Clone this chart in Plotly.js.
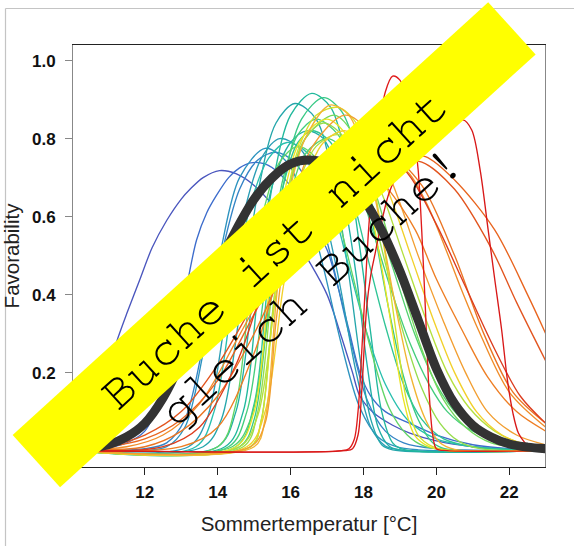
<!DOCTYPE html>
<html>
<head>
<meta charset="utf-8">
<script src="https://cdn.plot.ly/plotly-3.0.1.min.js"></script>
<style>
html,body{margin:0;padding:0;background:#ffffff;}
#chart{width:574px;height:546px;}
</style>
</head>
<body>
<div id="chart"></div>
<script>
// ---- axis ticks ----
const tempTicks = [12, 14, 16, 18, 20, 22];
const favTicks = [0.0, 0.2, 0.4, 0.6, 0.8, 1.0];
const favTickText = ["0.0", "0.2", "0.4", "0.6", "0.8", "1.0"];

// ---- individual response curves (temperature, favorability) ----
const blue1T = [10.03,10.5,11,11.23,11.5,11.87,12.2,12.6,13,13.24,13.6,14.05,14.5,15,15.5,16,16.54,17,17.4,17.7,17.9,18.3,18.8,19.27,20,21,22,23];
const blue1F = [0.05,0.11,0.21,0.28,0.35,0.44,0.52,0.59,0.645,0.67,0.70,0.718,0.71,0.68,0.63,0.56,0.48,0.40,0.29,0.2,0.14,0.095,0.065,0.045,0.025,0.01,0.004,0.002];
const blue2T = [10.03,11,11.5,12,12.5,12.88,13.15,13.42,13.7,13.97,14.3,14.6,14.9,15.3,15.7,16.1,16.5,17,17.3,17.6,17.9,18.2,18.6,19.27,20,21,22,23];
const blue2F = [0.002,0.008,0.02,0.05,0.15,0.284,0.42,0.54,0.61,0.655,0.70,0.725,0.738,0.735,0.71,0.665,0.60,0.515,0.42,0.31,0.2,0.14,0.10,0.07,0.04,0.015,0.005,0.002];
const blue3T = [10.03,12,12.6,13.1,13.6,14.1,14.6,15.1,15.6,16.1,16.6,17.1,17.6,18.1,18.6,19.1,20,23];
const blue3F = [0,0.005,0.02,0.08,0.27,0.5,0.67,0.745,0.765,0.74,0.66,0.5,0.3,0.13,0.05,0.02,0.005,0];
const tealAT = [10.03,12.6,13.1,13.6,14.1,14.6,15.3,15.9,16.4,16.9,17.4,17.9,18.4,18.9,19.5,23];
const tealAF = [0,0.01,0.06,0.25,0.52,0.70,0.775,0.74,0.64,0.47,0.27,0.11,0.035,0.01,0.002,0];
const tealBT = [10.03,13.2,13.7,14.2,14.7,15.2,15.7,16.3,16.8,17.3,17.8,18.2,18.6,19,23];
const tealBF = [0,0.01,0.08,0.33,0.6,0.75,0.80,0.77,0.65,0.45,0.2,0.06,0.012,0.002,0];
const tealCT = [10.03,13.6,14.1,14.6,15.1,15.6,16.12,16.7,17.2,17.6,17.9,18.2,18.5,18.8,23];
const tealCF = [0,0.01,0.08,0.35,0.66,0.84,0.89,0.85,0.68,0.45,0.24,0.08,0.015,0.002,0];
const tealDT = [10.03,14,14.5,15,15.5,16,16.45,16.9,17.4,17.8,18.1,18.4,18.7,19,23];
const tealDF = [0,0.01,0.1,0.42,0.68,0.79,0.82,0.8,0.67,0.45,0.22,0.06,0.012,0.002,0];
const tealET = [10.03,14.2,14.7,15.1,15.5,16,16.58,17.1,17.5,17.9,18.2,18.5,18.8,19.1,23];
const tealEF = [0,0.01,0.1,0.4,0.68,0.86,0.916,0.88,0.76,0.52,0.3,0.1,0.02,0.003,0];
const tealFT = [10.03,13.4,13.9,14.4,14.9,15.4,15.9,16.5,17.1,17.6,18.1,18.6,19.2,20,21,22,23];
const tealFF = [0,0.01,0.1,0.38,0.63,0.75,0.79,0.76,0.64,0.47,0.3,0.17,0.08,0.03,0.01,0.003,0.001];
const greenAT = [10.03,14.5,15,15.4,15.8,16.2,16.6,17.1,17.6,18.1,18.6,19.1,19.6,20.2,21,22,23];
const greenAF = [0,0.01,0.12,0.45,0.68,0.79,0.82,0.79,0.68,0.5,0.32,0.17,0.08,0.03,0.01,0.003,0.001];
const greenBT = [10.03,14.6,15,15.4,15.8,16.3,16.9,17.4,17.9,18.3,18.7,19.1,19.5,19.9,20.3,23];
const greenBF = [0,0.01,0.08,0.38,0.68,0.85,0.905,0.87,0.74,0.56,0.36,0.19,0.08,0.02,0.003,0];
const greenCT = [10.03,14.3,14.8,15.3,15.8,16.2,16.7,17.3,17.8,18.3,18.8,19.3,19.8,20.3,21,22,23];
const greenCF = [0,0.01,0.1,0.42,0.7,0.81,0.85,0.81,0.7,0.55,0.4,0.27,0.17,0.1,0.05,0.02,0.01];
const greenDT = [10.03,14.4,14.9,15.4,15.9,16.4,17,17.6,18.2,18.8,19.4,20,20.6,21.3,22,23];
const greenDF = [0,0.01,0.08,0.35,0.62,0.76,0.8,0.76,0.64,0.47,0.3,0.17,0.09,0.04,0.02,0.005];
const greenET = [10.03,14,14.5,14.9,15.3,15.7,16.2,16.7,17.2,17.7,18.2,18.7,19.2,19.7,20.5,23];
const greenEF = [0,0.01,0.12,0.42,0.63,0.74,0.78,0.75,0.63,0.45,0.26,0.11,0.04,0.01,0.001,0];
const greenFT = [10.03,14.9,15.2,15.5,15.9,16.4,17.2,17.8,18.4,19,19.6,20.2,20.8,21.5,22.5,23];
const greenFF = [0,0.01,0.08,0.35,0.64,0.8,0.86,0.8,0.64,0.44,0.26,0.13,0.06,0.02,0.005,0.002];
const limeAT = [10.03,14.7,15.1,15.5,15.9,16.4,16.9,17.5,18.1,18.6,19.1,19.6,20.1,20.6,21.2,23];
const limeAF = [0,0.01,0.1,0.42,0.66,0.8,0.84,0.8,0.66,0.48,0.3,0.16,0.07,0.025,0.005,0];
const limeBT = [10.03,14.6,15.1,15.6,16.1,16.7,17.3,17.9,18.5,19.1,19.7,20.3,20.9,21.6,22.3,23];
const limeBF = [0,0.01,0.09,0.4,0.65,0.78,0.81,0.77,0.66,0.5,0.34,0.2,0.11,0.05,0.02,0.01];
const yellowAT = [10.03,14.9,15.2,15.5,15.8,16.2,16.7,17.3,17.8,18.2,18.6,18.9,19.2,19.5,19.9,20.3,23];
const yellowAF = [0,0.01,0.08,0.34,0.6,0.77,0.86,0.88,0.84,0.72,0.5,0.3,0.12,0.04,0.01,0.001,0];
const yellowBT = [10.03,14.5,15,15.4,15.8,16.3,17,17.6,18.1,18.5,18.8,19.1,19.4,19.8,20.2,23];
const yellowBF = [0,0.01,0.1,0.4,0.65,0.8,0.85,0.8,0.66,0.47,0.3,0.13,0.04,0.01,0.001,0];
const yellowCT = [10.03,14.8,15.3,15.8,16.3,16.9,17.5,18.1,18.7,19.3,19.9,20.5,21.1,21.8,22.5,23];
const yellowCF = [0,0.01,0.1,0.42,0.66,0.79,0.82,0.78,0.66,0.5,0.34,0.2,0.1,0.04,0.015,0.008];
const orangeAT = [10.03,15,15.3,15.6,15.9,16.4,17.08,17.6,18.1,18.5,18.9,19.3,19.7,20.1,20.5,23];
const orangeAF = [0,0.01,0.08,0.38,0.63,0.8,0.886,0.86,0.74,0.56,0.36,0.19,0.08,0.02,0.003,0];
const orangeBT = [10.03,14.9,15.3,15.6,16,16.6,17.5,18.2,18.9,19.5,20.2,20.8,21.4,22.2,23];
const orangeBF = [0,0.01,0.07,0.33,0.6,0.78,0.86,0.81,0.66,0.5,0.33,0.2,0.1,0.04,0.015];
const orangeCT = [10.03,11.5,12.5,13.5,14.5,15.5,16.5,17.5,18.5,19.14,19.7,20.23,20.7,21.15,22,23];
const orangeCF = [0.003,0.01,0.04,0.12,0.28,0.45,0.6,0.69,0.72,0.72,0.64,0.523,0.41,0.31,0.15,0.06];
const orangeDT = [10.03,13,14,15,16,17,17.8,18.6,19.42,20,20.7,21.4,22.2,23];
const orangeDF = [0,0.01,0.06,0.25,0.55,0.73,0.76,0.68,0.566,0.44,0.31,0.19,0.1,0.05];
const orangeET = [10.03,12,13,14,15,16,17,18,18.8,19.6,20.5,21.3,22.1,23];
const orangeEF = [0.002,0.01,0.05,0.14,0.3,0.5,0.66,0.74,0.75,0.68,0.5,0.3,0.15,0.07];
const redOrangeAT = [10.03,11,12,13,14,15,16,17,18,19,19.7,20.5,21.6,22.5,23];
const redOrangeAF = [0.003,0.01,0.03,0.08,0.18,0.35,0.52,0.64,0.72,0.755,0.754,0.694,0.566,0.40,0.30];
const redOrangeBT = [10.03,11,12,13,14,15,16,17,18,19,19.6,20.5,21.5,22.2,23];
const redOrangeBF = [0.004,0.012,0.04,0.1,0.22,0.38,0.55,0.66,0.72,0.74,0.74,0.67,0.52,0.38,0.23];
const redOrangeCT = [10.03,12.5,13.5,14.5,15.08,15.7,16.5,17.3,18,18.7,19.3,20,20.8,21.6,22.3,23];
const redOrangeCF = [0,0.01,0.06,0.22,0.37,0.53,0.68,0.76,0.78,0.76,0.7,0.58,0.42,0.26,0.14,0.07];
const redAT = [10.03,17.4,17.6,17.75,17.85,17.95,18.05,18.15,18.3,18.45,18.6,18.8,19,19.2,19.4,19.5,19.6,19.7,19.8,19.9,20,20.3,23];
const redAF = [0,0,0.005,0.03,0.1,0.25,0.42,0.58,0.74,0.84,0.92,0.96,0.95,0.9,0.8,0.72,0.56,0.36,0.15,0.04,0.005,0,0];
const redBT = [10.03,17.5,17.7,17.85,17.95,18.09,18.2,18.32,18.45,18.7,19,19.5,20,20.4,20.73,20.97,21.2,21.42,21.6,21.79,21.95,22.1,22.25,22.43,22.6,23];
const redBF = [0,0,0.005,0.04,0.15,0.37,0.45,0.506,0.566,0.66,0.72,0.77,0.8,0.83,0.848,0.822,0.72,0.566,0.44,0.31,0.18,0.096,0.045,0.02,0.005,0];

// ---- ensemble mean curve (thick dark line) ----
const meanT = [10.03,10.5,11,11.5,12,12.5,13,13.5,14,14.5,15,15.5,16,16.5,17,17.5,18,18.5,19,19.5,20,20.5,21,21.5,22,22.5,23];
const meanF = [0.004,0.007,0.015,0.035,0.07,0.135,0.23,0.35,0.47,0.565,0.645,0.70,0.735,0.745,0.735,0.70,0.645,0.565,0.46,0.335,0.21,0.12,0.065,0.035,0.017,0.009,0.005];

// ---- line colours (rainbow palette) ----
const curveTemps = [blue1T, blue2T, blue3T, tealAT, tealBT, tealCT, tealDT, tealET, tealFT,
  greenAT, greenBT, greenCT, greenDT, greenET, greenFT, limeAT, limeBT,
  yellowAT, yellowBT, yellowCT, orangeAT, orangeBT, orangeCT, orangeDT, orangeET,
  redOrangeAT, redOrangeBT, redOrangeCT, redAT, redBT];
const curveFavs = [blue1F, blue2F, blue3F, tealAF, tealBF, tealCF, tealDF, tealEF, tealFF,
  greenAF, greenBF, greenCF, greenDF, greenEF, greenFF, limeAF, limeBF,
  yellowAF, yellowBF, yellowCF, orangeAF, orangeBF, orangeCF, orangeDF, orangeEF,
  redOrangeAF, redOrangeBF, redOrangeCF, redAF, redBF];
const curveColors = ['#4a56be','#3c6ccc','#3484c6','#2d93bf','#2a9db5','#24a6ab','#21afa6','#20b89c','#28bfae',
  '#2ec495','#38c985','#44cd7c','#52d26e','#62d566','#74d95c','#96dd4c','#b4e03e',
  '#d4e22c','#ece422','#f2d02a','#f2b432','#f29e30','#f08c28','#ee7e24','#ea7422',
  '#e8641e','#e2541e','#dc3c1e','#e01a1a','#d81818'];

const bannerLines = ['Buche ist nicht', 'gleich Buche!'];

const traces = curveTemps.map((t, i) => ({
  x: t, y: curveFavs[i], type: 'scatter', mode: 'lines',
  line: {color: curveColors[i], width: 1.35, shape: 'spline', smoothing: 0.9},
  hoverinfo: 'skip', showlegend: false
}));
traces.push({
  x: meanT, y: meanF, type: 'scatter', mode: 'lines',
  line: {color: '#333333', width: 9, shape: 'spline', smoothing: 0.9},
  hoverinfo: 'skip', showlegend: false
});

const tickFont = {family: 'Liberation Sans, Arial, sans-serif', size: 17, color: '#111', weight: 'bold'};
const titleFont = {family: 'Liberation Sans, Arial, sans-serif', size: 20.5, color: '#222'};
const bannerFont = {family: 'Nimbus Mono PS, Nimbus Mono L, FreeMono, Courier, Liberation Mono, monospace', size: 50, color: '#000'};

const layout = {
  width: 574, height: 546,
  margin: {l: 73, r: 29, t: 45, b: 79, pad: 0},
  paper_bgcolor: '#ffffff', plot_bgcolor: '#ffffff',
  showlegend: false,
  hovermode: false,
  xaxis: {
    range: [10.03, 22.98], showgrid: false, zeroline: false,
    showline: true, linecolor: '#222', linewidth: 1, mirror: true,
    ticks: 'outside', ticklen: 7, tickwidth: 1, tickcolor: '#222',
    tickvals: tempTicks, ticktext: tempTicks.map(String), tickfont: tickFont,
    ticklabelstandoff: 3,
    title: {text: 'Sommertemperatur [°C]', font: titleFont, standoff: 15}
  },
  yaxis: {
    range: [-0.042, 1.04], showgrid: false, zeroline: false,
    showline: true, linecolor: '#888', linewidth: 1, mirror: true,
    ticks: 'outside', ticklen: 7, tickwidth: 1, tickcolor: '#888',
    tickvals: favTicks, ticktext: favTickText, tickfont: tickFont,
    ticklabelstandoff: 6,
    title: {text: 'Favorability', font: titleFont, standoff: 6}
  },
  shapes: [
    {type: 'line', xref: 'paper', yref: 'paper', x0: -0.1430, x1: 1.10, y0: 1.0865, y1: 1.0865,
     line: {color: '#c4c4c4', width: 1.2}, layer: 'above'},
    {type: 'line', xref: 'paper', yref: 'paper', x0: -0.1430, x1: -0.1430, y0: -0.2, y1: 1.0865,
     line: {color: '#c4c4c4', width: 1.2}, layer: 'above'},
    {type: 'path', xref: 'paper', yref: 'paper',
     path: 'M -0.1279 0.07564 L 0.87964 1.10109 L 0.98015 0.97754 L -0.02739 -0.04791 Z',
     fillcolor: '#ffff00', line: {width: 0}, layer: 'above'}
  ],
  annotations: [
    {xref: 'paper', yref: 'paper', x: 0.4269, y: 0.5166, xanchor: 'center', yanchor: 'middle',
     text: bannerLines[0], showarrow: false, textangle: -42.3, font: bannerFont},
    {xref: 'paper', yref: 'paper', x: 0.5042, y: 0.4265, xanchor: 'center', yanchor: 'middle',
     text: bannerLines[1], showarrow: false, textangle: -42.3, font: bannerFont}
  ]
};

Plotly.newPlot('chart', traces, layout, {displayModeBar: false, staticPlot: true});
</script>
</body>
</html>
